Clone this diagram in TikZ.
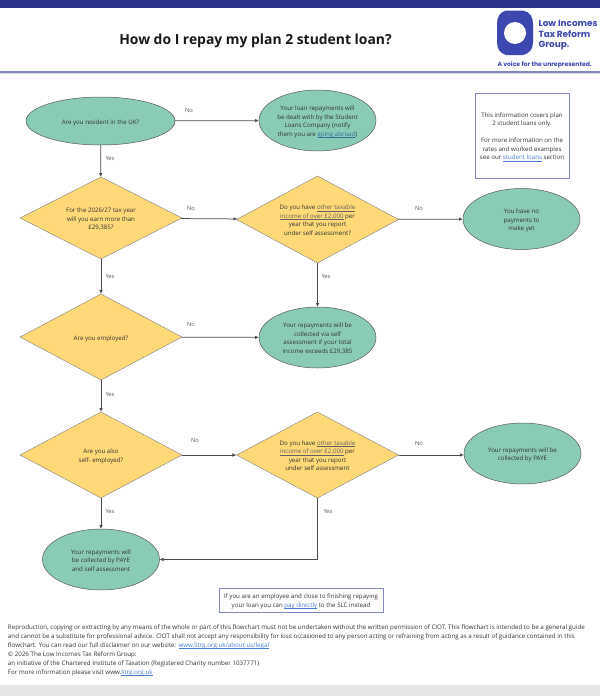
\documentclass[tikz,border=0pt]{standalone}
\usepackage{fontspec}
\setmainfont{Open Sans}
\newfontfamily\logofont{Poppins}
\usetikzlibrary{shapes.geometric,arrows.meta}
\definecolor{tealfill}{HTML}{8ACBB5}
\definecolor{yellowfill}{HTML}{FFD878}
\definecolor{navy}{HTML}{2B3488}
\definecolor{logoblue}{HTML}{3D47B0}
\definecolor{boxline}{HTML}{8188C0}
\definecolor{linkblue}{HTML}{4A7FD8}
\definecolor{darklink}{HTML}{2F6DA0}
\definecolor{txt}{HTML}{333333}
\newsavebox{\ulbox}
\newcommand{\myul}[1]{\sbox{\ulbox}{#1}\rlap{\raisebox{-1.3pt}{\rule{\wd\ulbox}{0.35pt}}}\usebox{\ulbox}}
\newcommand{\lnk}[1]{\textcolor{linkblue}{\myul{#1}}}
\newcommand{\dlnk}[1]{\textcolor{darklink}{\myul{#1}}}
\newcommand{\olnk}[1]{\textcolor{black!62}{\myul{#1}}}
\newcommand{\tx}[1]{\raisebox{0pt}[\dimexpr\height+3pt\relax][\depth]{\begin{tabular}{@{}c@{}}#1\end{tabular}}}
\tikzset{
  x=1pt,y=-1pt,
  every node/.style={font=\fontsize{6.15}{8.5}\selectfont,text=txt,align=center,inner sep=0pt,outer sep=0pt},
  tealell/.style={ellipse,draw=black!65,line width=0.5pt,fill=tealfill,minimum width=117pt,minimum height=61pt},
  yelldia/.style={diamond,shape aspect=2,draw=black!50,line width=0.4pt,fill=yellowfill,minimum width=162pt,minimum height=86pt},
  flow/.style={draw=black!70,line width=0.75pt,-{Latex[length=4pt,width=3.5pt]}},
  lab/.style={font=\fontsize{5.8}{7}\selectfont,text=black!65},
  infobox/.style={draw=boxline,line width=0.9pt,fill=white},
  foot/.style={font=\fontsize{6.21}{9}\selectfont,anchor=north west,align=left,text=txt},
}
\begin{document}
\begin{tikzpicture}
\useasboundingbox (0,0) rectangle (600,696);
\fill[white] (0,0) rectangle (600,696);
\fill[navy] (0,0) rectangle (600,8);
\fill[black!10] (0,685) rectangle (600,696);
\fill[boxline] (0,71) rectangle (600,72.6);
\fill[black!15] (0,72.6) rectangle (600,73.2);
% logo
\fill[logoblue] (506,10.5) .. controls (500,12) and (497,17) .. (497,24) -- (497,42)
  .. controls (497,49) and (500,53) .. (506,55) -- (523,55)
  .. controls (530,53) and (533,49) .. (533,42) -- (533,24)
  .. controls (533,17) and (530,12) .. (523,10.5) -- cycle;
\fill[white] (515,33) circle (11);
\node[anchor=west,font=\logofont\fontsize{8.9}{10.5}\selectfont\bfseries,text=logoblue,align=left] (logotext) at (538.5,35.5) {Low Incomes\\Tax Reform\\Group.};
\node[anchor=west,font=\logofont\fontsize{6.1}{7}\selectfont\bfseries,text=logoblue] (logotag) at (497.5,65) {A voice for the unrepresented.};
% title
\node[font=\fontsize{13.9}{16}\selectfont\bfseries,text=black!90] (title) at (255.5,41) {How do I repay my plan 2 student loan?};
% nodes
\node[tealell,minimum width=149pt,minimum height=48pt] (resident) at (100.5,121) {\tx{Are you resident in the UK?}};
\node[tealell] (slc) at (317.5,120.5) {\tx{Your loan repayments will\\be dealt with by the Student\\Loans Company (notify\\them you are \dlnk{going abroad})}};
\node[yelldia,minimum height=82pt] (earn) at (101,218) {\tx{For the 2026/27 tax year\\will you earn more than\\£29,385?}};
\node[yelldia,minimum height=87pt] (other1) at (317.5,219.5) {\tx{Do you have \olnk{other taxable}\\\olnk{income of over £2,000} per\\year that you report\\under self assessment?}};
\node[tealell] (nopay) at (521.5,219) {\tx{You have no\\payments to\\make yet}};
\node[yelldia] (employed) at (101,337) {\tx{Are you employed?}};
\node[tealell] (sa) at (317.5,337.5) {\tx{Your repayments will be\\collected via self\\assessment if your total\\income exceeds £29,385}};
\node[yelldia] (selfemp) at (101,455) {\tx{Are you also\\self- employed?}};
\node[yelldia] (other2) at (317.5,455) {\tx{Do you have \olnk{other taxable}\\\olnk{income of over £2,000} per\\year that you report\\under self assessment}};
\node[tealell] (paye) at (522.5,453.5) {\tx{Your repayments will be\\collected by PAYE}};
\node[tealell] (both) at (101,559.5) {\tx{Your repayments will\\be collected by PAYE\\and self assessment}};
\node[infobox,minimum width=94pt,minimum height=85pt] (info) at (522,135.5) {\tx{This information covers plan\\2 student loans only.\\[8.5pt]For more information on the\\rates and worked examples\\see our \lnk{student loans} section}};
\node[infobox,minimum width=164pt,minimum height=24pt] (direct) at (301,600) {\tx{If you are an employee and close to finishing repaying\\your loan you can \lnk{pay directly} to the SLC instead}};
% connectors
\draw[flow] (resident) -- (slc);
\draw[flow] (resident) -- (earn);
\draw[flow] (earn) -- (other1);
\draw[flow] (other1) -- (nopay);
\draw[flow] (other1) -- (sa);
\draw[flow] (earn) -- (employed);
\draw[flow] (employed) -- (sa);
\draw[flow] (employed) -- (selfemp);
\draw[flow] (selfemp) -- (other2);
\draw[flow] (other2) -- (paye.west |- other2);
\draw[flow] (selfemp) -- (both);
\draw[flow] (other2.south) |- (both.east);
% labels
\node[lab] (l1) at (189,110) {No};
\node[lab] (l2) at (110,158) {Yes};
\node[lab] (l3) at (191,208.5) {No};
\node[lab] (l4) at (419,208.5) {No};
\node[lab] (l5) at (326,276) {Yes};
\node[lab] (l6) at (110,276) {Yes};
\node[lab] (l7) at (191,324) {No};
\node[lab] (l8) at (110,394) {Yes};
\node[lab] (l9) at (195,440) {No};
\node[lab] (l10) at (419,443.5) {No};
\node[lab] (l11) at (110,511) {Yes};
\node[lab] (l12) at (328,511) {Yes};
% footer
\node[foot] (disc) at (8,624.6) {Reproduction, copying or extracting by any means of the whole or part of this flowchart must not be undertaken without the written permission of CIOT. This flowchart is intended to be a general guide\\and cannot be a substitute for professional advice. CIOT shall not accept any responsibility for loss occasioned to any person acting or refraining from acting as a result of guidance contained in this\\flowchart. You can read our full disclaimer on our website: \lnk{www.litrg.org.uk/about us/legal}\\© 2026 The Low Incomes Tax Reform Group:\\an initiative of the Chartered Institute of Taxation (Registered Charity number 1037771)\\For more information please visit www.\lnk{litrg.org.uk}};
\end{tikzpicture}
\end{document}
